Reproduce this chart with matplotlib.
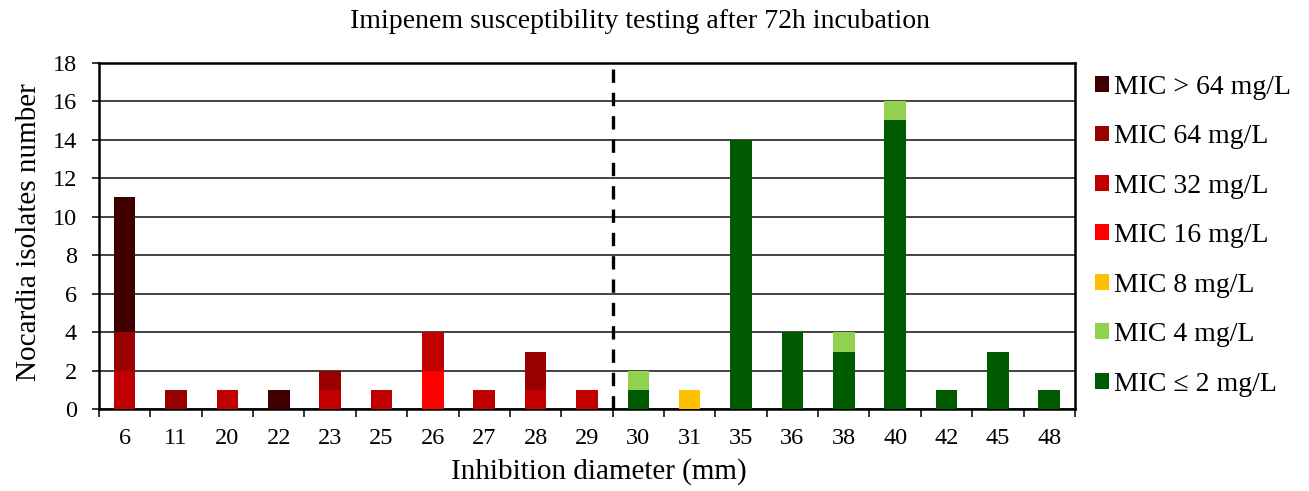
import numpy as np
import matplotlib.pyplot as plt
from matplotlib.patches import Patch

diameters = ["6", "11", "20", "22", "23", "25", "26", "27", "28", "29",
             "30", "31", "35", "36", "38", "40", "42", "45", "48"]

# counts per MIC class, stacked bottom to top
mic_le2 = [0, 0, 0, 0, 0, 0, 0, 0, 0, 0, 1, 0, 14, 4, 3, 15, 1, 3, 1]
mic_4 = [0, 0, 0, 0, 0, 0, 0, 0, 0, 0, 1, 0, 0, 0, 1, 1, 0, 0, 0]
mic_8 = [0, 0, 0, 0, 0, 0, 0, 0, 0, 0, 0, 1, 0, 0, 0, 0, 0, 0, 0]
mic_16 = [0, 0, 0, 0, 0, 0, 2, 0, 0, 0, 0, 0, 0, 0, 0, 0, 0, 0, 0]
mic_32 = [2, 0, 1, 0, 1, 1, 2, 1, 1, 1, 0, 0, 0, 0, 0, 0, 0, 0, 0]
mic_64 = [2, 1, 0, 0, 1, 0, 0, 0, 2, 0, 0, 0, 0, 0, 0, 0, 0, 0, 0]
mic_gt64 = [7, 0, 0, 1, 0, 0, 0, 0, 0, 0, 0, 0, 0, 0, 0, 0, 0, 0, 0]

series = [mic_le2, mic_4, mic_8, mic_16, mic_32, mic_64, mic_gt64]
labels = ["MIC \u2264 2 mg/L", "MIC 4 mg/L", "MIC 8 mg/L", "MIC 16 mg/L",
          "MIC 32 mg/L", "MIC 64 mg/L", "MIC > 64 mg/L"]
colors = ["#005A00", "#92D050", "#FFC000", "#FF0000",
          "#C00000", "#990000", "#400000"]


def main():
    plt.rcParams["font.family"] = ["Liberation Serif", "DejaVu Serif"]
    fig = plt.figure(figsize=(13.09, 4.91), dpi=100)
    ax = fig.add_axes([0.0756, 0.166, 0.7456, 0.7067])

    x = np.arange(len(diameters))
    bottom = np.zeros(len(diameters))
    for vals, col in zip(series, colors):
        ax.bar(x, vals, 0.42, bottom=bottom, color=col, zorder=3)
        bottom += np.array(vals)

    ax.set_xlim(-0.5, len(diameters) - 0.5)
    ax.set_ylim(0, 18)
    ax.set_yticks(range(0, 19, 2))
    ax.set_xticks(x)
    ax.set_xticklabels(diameters)
    ax.set_xticks(np.arange(-0.5, len(diameters), 1), minor=True)
    ax.tick_params(axis="x", which="major", length=0, labelsize=17.5, pad=13)
    ax.tick_params(axis="x", which="minor", length=6, width=1.1, direction="out")
    ax.tick_params(axis="y", labelsize=17.5, length=5, width=1.1, direction="out", pad=11)
    ax.yaxis.grid(True, color="#222222", linewidth=1.2, zorder=0)
    for s in ax.spines.values():
        s.set_linewidth(1.8)
        s.set_color("black")

    ax.axvline(9.5, color="black", linestyle=(0, (4, 3)), linewidth=2.4, zorder=4)

    fig.text(640 / 1309, 1 - 22 / 491,
             "Imipenem susceptibility testing after 72h incubation",
             fontsize=20, ha="center", va="center")
    ax.set_xlabel("Inhibition diameter (mm)", fontsize=21)
    ax.xaxis.set_label_coords(0.512, -0.14)
    ax.set_ylabel("Nocardia isolates number", fontsize=21)
    ax.yaxis.set_label_coords(-0.058, 0.511)

    handles = [Patch(facecolor=c) for c in colors][::-1]
    fig.legend(handles, labels[::-1], loc="upper left",
               bbox_to_anchor=(0.828, 0.87), frameon=False, fontsize=20,
               handlelength=0.5, handleheight=0.5, handletextpad=0.2,
               labelspacing=0.88, borderaxespad=0)

    fig.savefig("out.png", dpi=100)


if __name__ == "__main__":
    main()
